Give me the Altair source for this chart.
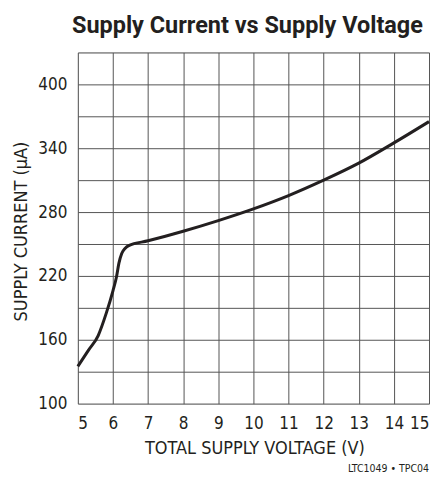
import altair as alt
import pandas as pd

voltage = [5.0, 5.3, 5.58, 5.81, 6.0, 6.1, 6.17, 6.25, 6.35, 6.45, 7, 8, 9, 10, 11, 12, 13, 14, 15]
current = [135, 150, 164, 185, 206, 219, 232, 241, 246, 248.5, 253, 262, 272, 283, 295.5, 310, 326, 345, 365]

x_ticks = [5, 6, 7, 8, 9, 10, 11, 12, 13, 14, 15]
y_grid = [100, 130, 160, 190, 220, 250, 280, 310, 340, 370, 400, 430]

title_text = "Supply Current vs Supply Voltage"
x_title = "TOTAL SUPPLY VOLTAGE (V)"
y_title = "SUPPLY CURRENT (µA)"
footnote = ["LTC1049 • TPC04"]

FONT = "Liberation Sans Narrow, DejaVu Sans Condensed, Roboto, sans-serif"
TFONT = "Roboto, Liberation Sans, sans-serif"
INK = "#231f20"

df = pd.DataFrame({"v": voltage, "i": current})

line = alt.Chart(df).mark_line(color=INK, strokeWidth=3, interpolate="monotone").encode(
    x=alt.X("v:Q", scale=alt.Scale(domain=[5, 15], nice=False, zero=False),
            axis=alt.Axis(values=x_ticks, title=x_title, ticks=False, domain=False,
                          grid=True, gridColor="#555555", gridWidth=1,
                          labelFont=FONT, labelFontSize=17, labelColor=INK,
                          labelBaseline="alphabetic", labelPadding=25,
                          titleFont=FONT, titleFontSize=18, titleFontWeight="normal",
                          titleColor=INK, titleBaseline="alphabetic",
                          titleX=177, titleY=50, titleAlign="center")),
    y=alt.Y("i:Q", scale=alt.Scale(domain=[100, 430], nice=False, zero=False),
            axis=alt.Axis(values=y_grid, title=y_title, ticks=False, domain=False,
                          grid=True, gridColor="#555555", gridWidth=1,
                          labelExpr="(datum.value - 100) % 60 == 0 && datum.value <= 400 ? datum.label : ''",
                          labelFont=FONT, labelFontSize=17, labelColor=INK,
                          labelPadding=11, labelBaseline="middle",
                          titleFont=FONT, titleFontSize=18, titleFontWeight="normal",
                          titleColor=INK, titleAngle=-90, titleBaseline="alphabetic",
                          titleAlign="center", titleX=-51, titleY=179)),
)

note = alt.Chart(pd.DataFrame({"t": footnote})).mark_text(
    font=FONT, fontSize=10.5, color=INK, align="right", baseline="alphabetic"
).encode(x=alt.value(352), y=alt.value(421), text="t:N")

chart = alt.layer(line, note).properties(
    width=352, height=352,
    title=alt.TitleParams(title_text, font=TFONT, fontSize=23.5, fontWeight="bold",
                          color=INK, anchor="middle", baseline="alphabetic",
                          offset=19, dx=-6, dy=23),
    autosize=alt.AutoSizeParams(type="none"),
    padding={"left": 70, "top": 44, "right": 1, "bottom": 70},
).configure_view(stroke="#111111", strokeWidth=1.5).configure(background="white")

chart.save("out.html", embed_options={"renderer": "svg", "actions": False})
